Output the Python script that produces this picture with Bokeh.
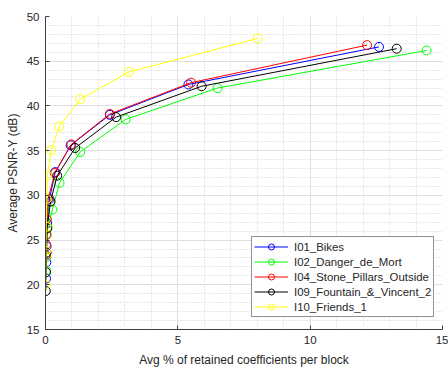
from bokeh.plotting import figure
from bokeh.models import Range1d, Legend, LegendItem, FixedTicker
from bokeh.embed import file_html
from bokeh.resources import INLINE

names = ["I01_Bikes", "I02_Danger_de_Mort", "I04_Stone_Pillars_Outside",
         "I09_Fountain_&_Vincent_2", "I10_Friends_1"]
colors = ["#0000ff", "#00ff00", "#ff0000", "#000000", "#ffff00"]

x_bikes = [0.02, 0.03, 0.04, 0.06, 0.15, 0.37, 0.95, 2.43, 5.4, 12.6]
y_bikes = [20.7, 22.5, 24.3, 26.9, 29.6, 32.6, 35.6, 39.0, 42.4, 46.6]

x_danger = [0.02, 0.03, 0.05, 0.08, 0.26, 0.53, 1.31, 3.03, 6.5, 14.4]
y_danger = [21.6, 23.1, 25.6, 26.4, 28.4, 31.4, 34.85, 38.5, 42.0, 46.2]

x_stone = [0.01, 0.02, 0.03, 0.05, 0.1, 0.35, 0.98, 2.43, 5.5, 12.15]
y_stone = [23.3, 24.5, 25.6, 27.3, 29.6, 32.5, 35.7, 39.1, 42.6, 46.8]

x_fount = [0.01, 0.02, 0.04, 0.06, 0.19, 0.44, 1.12, 2.67, 5.9, 13.27]
y_fount = [19.3, 21.4, 23.6, 26.3, 29.3, 32.2, 35.3, 38.75, 42.2, 46.4]

x_friends = [0.01, 0.02, 0.03, 0.05, 0.07, 0.22, 0.52, 1.31, 3.15, 8.02]
y_friends = [20.0, 23.8, 26.5, 29.6, 32.2, 35.05, 37.7, 40.75, 43.8, 47.55]

series = [(x_bikes, y_bikes), (x_danger, y_danger), (x_stone, y_stone),
          (x_fount, y_fount), (x_friends, y_friends)]

x_ticks = [0, 5, 10, 15]
y_ticks = [15, 20, 25, 30, 35, 40, 45, 50]

FONT = "Liberation Sans"
TXT = "#262626"

p = figure(width=448, height=369, output_backend="svg", toolbar_location=None,
           x_range=Range1d(0, 15), y_range=Range1d(15, 50),
           min_border_left=45, min_border_right=6, min_border_top=16,
           min_border_bottom=39)
p.outline_line_color = None
p.background_fill_color = "white"
p.border_fill_color = "white"

for ax in (p.xaxis[0], p.yaxis[0]):
    ax.major_tick_in = 4
    ax.major_tick_out = 0
    ax.minor_tick_in = 0
    ax.minor_tick_out = 0
    ax.axis_line_color = "#404040"
    ax.major_tick_line_color = "#404040"
    ax.major_label_text_font = FONT
    ax.major_label_text_font_size = "11.5px"
    ax.major_label_text_color = TXT
    ax.axis_label_text_font = FONT
    ax.axis_label_text_font_size = "12px"
    ax.axis_label_text_font_style = "normal"
    ax.axis_label_text_color = TXT

p.xaxis.axis_label = "Avg % of retained coefficients per block"
p.yaxis.axis_label = "Average PSNR-Y (dB)"
p.xaxis.major_label_standoff = 6
p.yaxis.major_label_standoff = 6
p.xaxis.axis_label_standoff = 6
p.yaxis.axis_label_standoff = 4

p.xaxis.ticker = FixedTicker(ticks=x_ticks, minor_ticks=list(range(0, 16)))
p.yaxis.ticker = FixedTicker(ticks=y_ticks, minor_ticks=list(range(15, 51)))

for g in (p.xgrid[0], p.ygrid[0]):
    g.grid_line_color = "#dedede"
    g.grid_line_width = 1
    g.minor_grid_line_color = "#cfcfcf"
    g.minor_grid_line_dash = "1 2"
    g.minor_grid_line_width = 1

items = []
for (xs, ys), c, n in zip(series, colors, names):
    r1 = p.line(xs, ys, line_color=c, line_width=1)
    r2 = p.scatter(xs, ys, marker="circle", size=9, fill_color=None,
                   line_color=c, line_width=1)
    items.append(LegendItem(label=n, renderers=[r1, r2]))

legend = Legend(items=items, location=(206, 12))
legend.label_text_font = FONT
legend.label_text_font_size = "11.4px"
legend.label_text_color = TXT
legend.glyph_width = 34
legend.glyph_height = 15
legend.label_height = 15
legend.spacing = 0
legend.padding = 2
legend.margin = 0
legend.label_standoff = 6
legend.border_line_color = "#262626"
legend.border_line_width = 1
legend.background_fill_color = "white"
legend.background_fill_alpha = 1
p.add_layout(legend, "center")

open("out.html", "w").write(file_html(p, INLINE))
